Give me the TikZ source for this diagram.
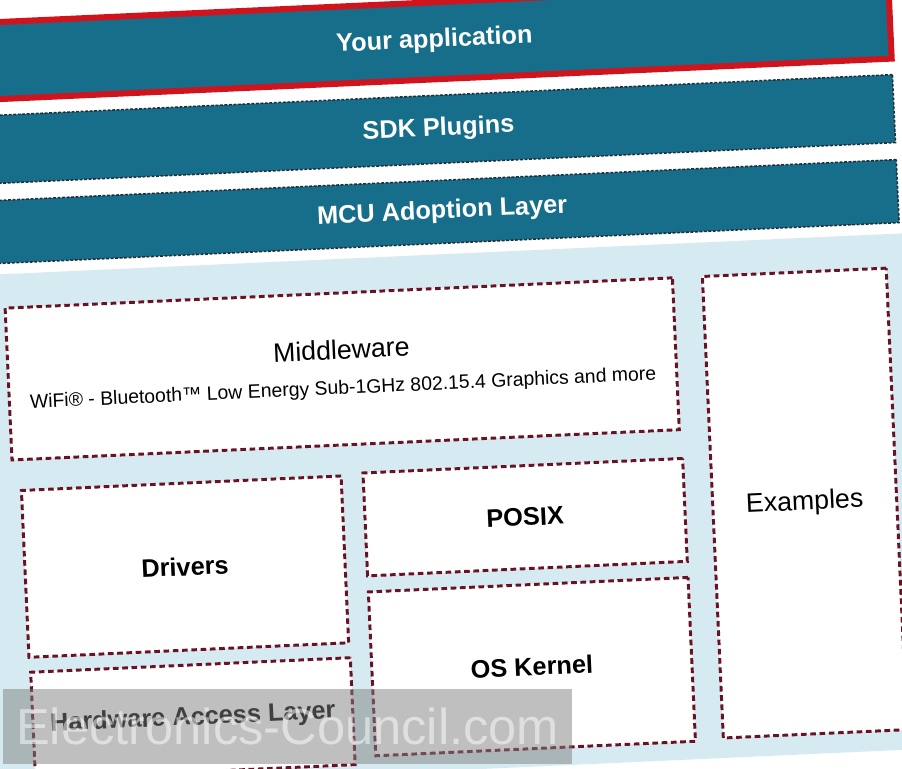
\documentclass[tikz,border=0pt]{standalone}
\usepackage{fontspec}
\setmainfont{Liberation Sans}
\usetikzlibrary{positioning}
\definecolor{bandteal}{HTML}{176E8A}
\definecolor{bandedge}{HTML}{1E2F3A}
\definecolor{appred}{HTML}{D0141E}
\definecolor{panelblue}{HTML}{D6EBF1}
\definecolor{boxedge}{HTML}{6A1222}
\tikzset{
  band/.style={fill=bandteal,draw=bandedge,line width=1.1pt,dash pattern=on 2pt off 1.2pt,
    minimum width=22.8cm,inner sep=0pt,text=white,font=\bfseries\fontsize{18}{20}\selectfont},
  appband/.style={band,draw=appred,line width=4.3pt,solid},
  layerbox/.style={fill=white,draw=boxedge,line width=2.1pt,dash pattern=on 4pt off 2.6pt,
    inner sep=0pt,align=center,font=\bfseries\fontsize{18}{21}\selectfont},
  plainbox/.style={layerbox,font=\fontsize{19}{22}\selectfont}
}
\begin{document}
\begin{tikzpicture}
\useasboundingbox (0,0) rectangle (22.55,19.2);
\fill[white] (0,0) rectangle (22.55,19.2);
\begin{scope}[rotate around={2.6:(11.275,9.6)},transform shape]
% light panel behind the software blocks
\fill[panelblue] (-1,-0.05) rectangle (23.25,12.85);
% upper layers
\node[appband,minimum height=1.925cm] (app) at (11.25,18.19) {Your application};
\node[band,minimum height=1.7cm] (sdk) at (11.25,15.975) {SDK Plugins};
\node[band,minimum height=1.575cm] (mcu) at (11.25,13.91) {MCU Adoption Layer};
% blocks
\node[plainbox,minimum width=16.7cm,minimum height=3.8cm] (middleware) at (8.575,10.1)
  {Middleware\\[3pt]{\fontsize{13.8}{16}\selectfont WiFi® - Bluetooth™ Low Energy Sub-1GHz 802.15.4 Graphics and more}};
\node[plainbox,minimum width=4.6cm,minimum height=11.55cm] (examples) at (19.975,6.225) {Examples};
\node[layerbox,minimum width=8cm,minimum height=4.175cm] (drivers) at (4.425,5.34) {Drivers};
\node[layerbox,minimum width=8cm,minimum height=2.675cm] (hal) at (4.45,1.54) {Hardware Access Layer};
\node[layerbox,minimum width=8cm,minimum height=2.575cm] (posix) at (12.975,6.19) {POSIX};
\node[layerbox,minimum width=8cm,minimum height=4.1cm] (kernel) at (12.975,2.45) {OS Kernel};
\end{scope}
% watermark
\node[fill=gray,fill opacity=0.5,text=white,text opacity=0.5,inner sep=0pt,
  minimum width=14.225cm,minimum height=1.875cm,font=\fontsize{36}{40}\selectfont] (mark) at (7.19,1.04) {Electronics-Council.com};
\end{tikzpicture}
\end{document}
